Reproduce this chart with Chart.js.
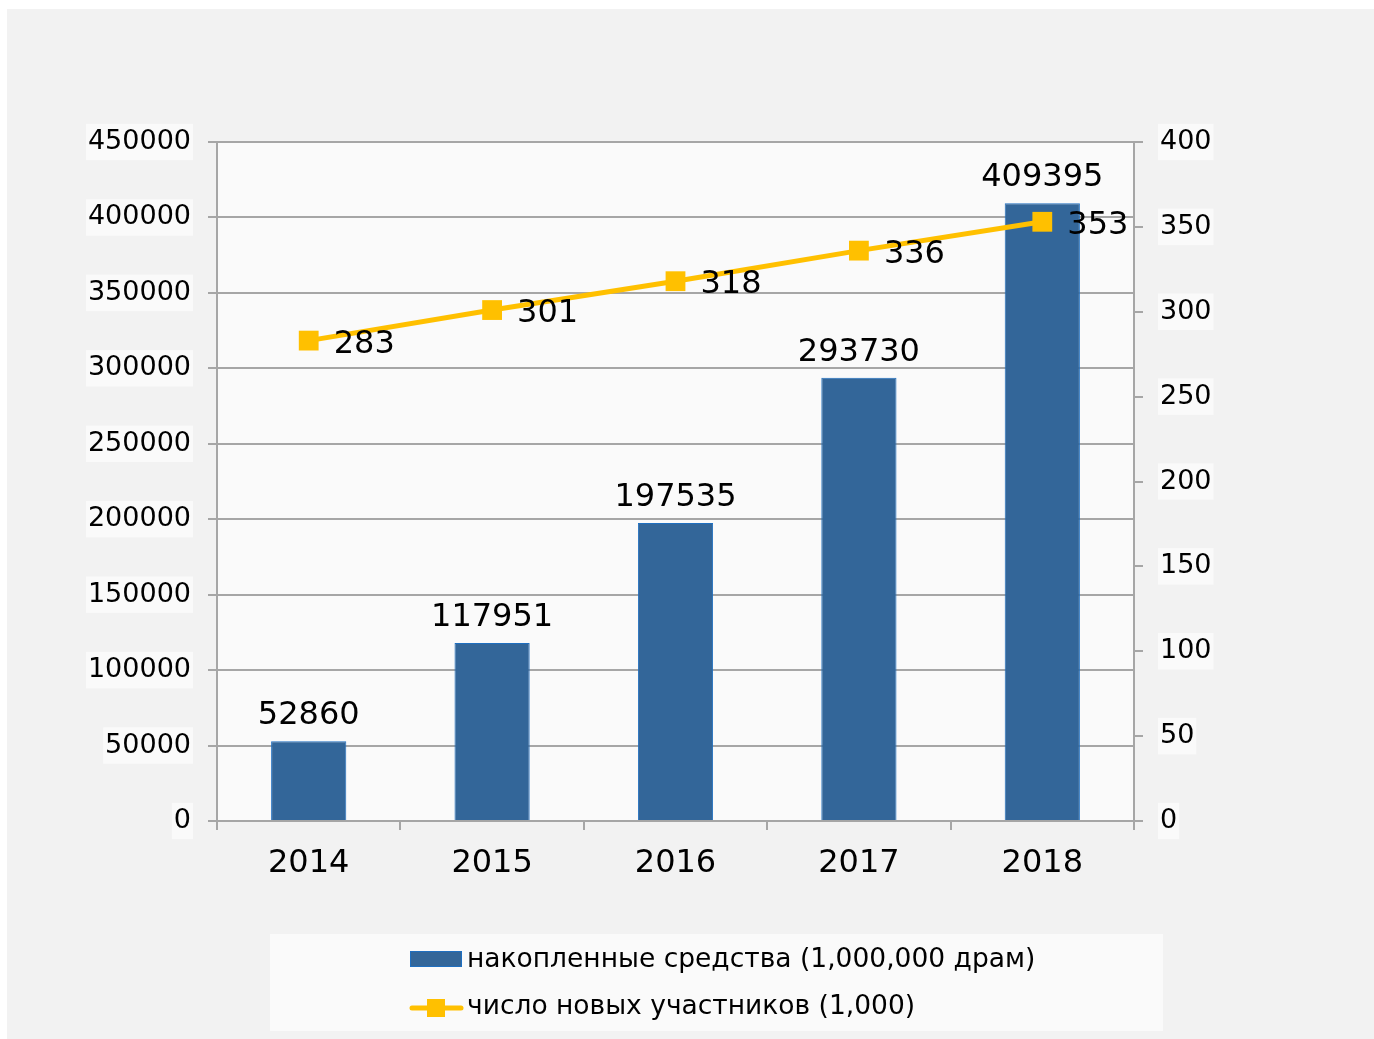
<!DOCTYPE html>
<html>
<head>
<meta charset="utf-8">
<script src="https://cdn.jsdelivr.net/npm/chart.js@4.4.1/dist/chart.umd.min.js"></script>
<style>
html,body{margin:0;padding:0;background:#fff;}
canvas{display:block;}
</style>
</head>
<body>
<canvas id="c" width="1374" height="1039"></canvas>
<script>
const years = ['2014', '2015', '2016', '2017', '2018'];
const savings = [52860, 117951, 197535, 293730, 409395];
const participants = [283, 301, 318, 336, 353];
const savingsLabel = 'накопленные средства (1,000,000 драм)';
const participantsLabel = 'число новых участников (1,000)';

const FONT = "'DejaVu Sans', Verdana, sans-serif";
const BLUE = '#336699';
const YELLOW = '#ffc000';
const GRID = '#a6a6a6';

const bgPlugin = {
  id: 'bg',
  beforeDraw(chart) {
    const ctx = chart.ctx;
    const a = chart.chartArea;
    ctx.save();
    ctx.fillStyle = '#ffffff';
    ctx.fillRect(0, 0, chart.width, chart.height);
    ctx.fillStyle = '#f2f2f2';
    ctx.fillRect(7, 9, chart.width - 7, chart.height - 9);
    ctx.fillStyle = '#fafafa';
    ctx.fillRect(a.left, a.top, a.right - a.left, a.bottom - a.top);
    ctx.restore();
  }
};

const labelPlugin = {
  id: 'vals',
  afterDatasetsDraw(chart) {
    const ctx = chart.ctx;
    ctx.save();
    ctx.fillStyle = '#000';
    ctx.font = '32px ' + FONT;
    ctx.textBaseline = 'alphabetic';
    const mBar = chart.getDatasetMeta(1);
    ctx.textAlign = 'center';
    mBar.data.forEach((el, i) => {
      ctx.fillText(String(savings[i]), el.x, el.y - 17);
    });
    const mLine = chart.getDatasetMeta(0);
    ctx.textAlign = 'left';
    mLine.data.forEach((el, i) => {
      ctx.fillText(String(participants[i]), el.x + 25, el.y + 12);
    });
    ctx.restore();
  }
};

const legendPlugin = {
  id: 'customLegend',
  afterDraw(chart) {
    const ctx = chart.ctx;
    ctx.save();
    ctx.fillStyle = '#fafafa';
    ctx.fillRect(270, 934, 893, 97);
    ctx.fillStyle = BLUE;
    ctx.fillRect(410, 951, 52, 16);
    ctx.strokeStyle = '#1f6fc0';
    ctx.lineWidth = 1;
    ctx.strokeRect(410.5, 951.5, 51, 15);
    ctx.strokeStyle = YELLOW;
    ctx.lineWidth = 5;
    ctx.lineCap = 'round';
    ctx.beginPath();
    ctx.moveTo(412, 1008);
    ctx.lineTo(461, 1008);
    ctx.stroke();
    ctx.fillStyle = YELLOW;
    ctx.fillRect(427, 999, 18, 18);
    ctx.fillStyle = '#000';
    ctx.font = '26.5px ' + FONT;
    ctx.textAlign = 'left';
    ctx.textBaseline = 'middle';
    ctx.fillText(savingsLabel, 467, 960);
    ctx.fillText(participantsLabel, 467, 1007);
    ctx.restore();
  }
};

new Chart(document.getElementById('c'), {
  type: 'bar',
  data: {
    labels: years,
    datasets: [
      {
        type: 'line',
        label: participantsLabel,
        data: participants,
        yAxisID: 'y1',
        borderColor: YELLOW,
        backgroundColor: YELLOW,
        borderWidth: 5,
        pointStyle: 'rect',
        pointRadius: 14,
        pointHoverRadius: 14,
        pointBorderWidth: 0,
        pointBackgroundColor: YELLOW,
        tension: 0,
        order: 0
      },
      {
        type: 'bar',
        label: savingsLabel,
        data: savings,
        yAxisID: 'y',
        backgroundColor: BLUE,
        borderColor: '#1f6fc0',
        borderWidth: 1,
        categoryPercentage: 1,
        barPercentage: 0.41,
        order: 1
      }
    ]
  },
  options: {
    responsive: false,
    animation: false,
    devicePixelRatio: 1,
    layout: { padding: { top: 142, left: 0, right: 0, bottom: 0 } },
    plugins: {
      legend: { display: false },
      tooltip: { enabled: false }
    },
    scales: {
      x: {
        position: 'bottom',
        offset: true,
        grid: {
          offset: true,
          drawOnChartArea: false,
          drawTicks: true,
          tickLength: 9,
          color: GRID,
          lineWidth: 2
        },
        border: { display: true, color: GRID, width: 2 },
        ticks: { color: '#000', font: { family: FONT, size: 32 }, padding: 14 },
        afterFit(scale) { scale.height = 218; }
      },
      y: {
        position: 'left',
        min: 0, max: 450000,
        grid: { color: GRID, lineWidth: 2, drawTicks: true, tickLength: 9 },
        border: { display: true, color: GRID, width: 2 },
        ticks: {
          stepSize: 50000,
          callback: (v) => String(v),
          color: '#000',
          font: { family: FONT, size: 27 },
          padding: 17,
          showLabelBackdrop: true,
          backdropColor: '#fafafa',
          backdropPadding: { top: 2, bottom: 2, left: 2, right: 2 }
        },
        afterFit(scale) { scale.width = 217; }
      },
      y1: {
        position: 'right',
        min: 0, max: 400,
        grid: { drawOnChartArea: false, color: GRID, lineWidth: 2, drawTicks: true, tickLength: 9 },
        border: { display: true, color: GRID, width: 2 },
        ticks: {
          stepSize: 50,
          callback: (v) => String(v),
          color: '#000',
          font: { family: FONT, size: 27 },
          padding: 17,
          showLabelBackdrop: true,
          backdropColor: '#fafafa',
          backdropPadding: { top: 2, bottom: 2, left: 2, right: 2 }
        },
        afterFit(scale) { scale.width = 240; }
      }
    }
  },
  plugins: [bgPlugin, labelPlugin, legendPlugin]
});
</script>
</body>
</html>
